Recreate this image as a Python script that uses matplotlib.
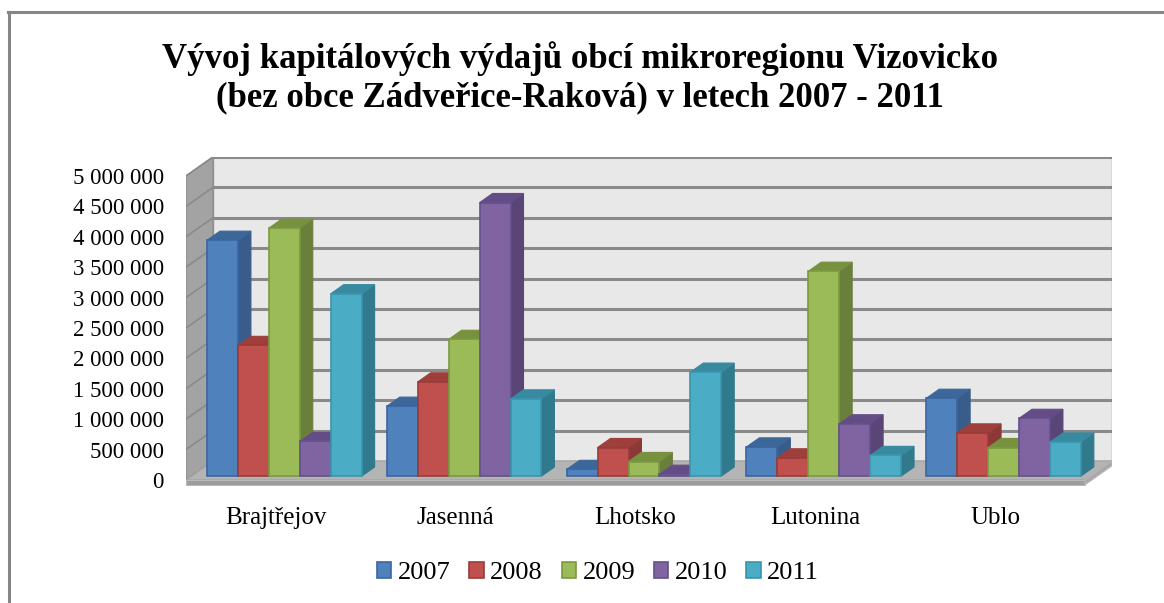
import matplotlib
matplotlib.use('Agg')
import matplotlib.pyplot as plt
from matplotlib.patches import Polygon, Rectangle
from matplotlib.lines import Line2D

plt.rcParams['font.family'] = ['Liberation Serif', 'DejaVu Serif']

# data
obce = ['Brajtřejov', 'Jasenná', 'Lhotsko', 'Lutonina', 'Ublo']
roky = ['2007', '2008', '2009', '2010', '2011']
v2007 = [3880000, 1150000, 110000, 480000, 1280000]
v2008 = [2150000, 1550000, 470000, 300000, 710000]
v2009 = [4080000, 2250000, 240000, 3370000, 470000]
v2010 = [570000, 4500000, 30000, 860000, 950000]
v2011 = [3000000, 1270000, 1710000, 340000, 560000]
serie = [v2007, v2008, v2009, v2010, v2011]
yticks = [0, 500000, 1000000, 1500000, 2000000, 2500000, 3000000, 3500000,
          4000000, 4500000, 5000000]

front = ['#4F81BD', '#C0504D', '#9BBB59', '#8064A2', '#4BACC6']
side = ['#385D8A', '#8C3836', '#6B7F3C', '#5A4577', '#317A8E']
top = ['#3E6799', '#9E3F3C', '#78913F', '#644D86', '#378AA0']
edge = ['#3A65A0', '#9A3B38', '#7A9A40', '#63508A', '#3A95AD']

fig = plt.figure(figsize=(11.64, 6.03), dpi=100)
ax = fig.add_axes([186/1164, 1-486/603, 926/1164, 329/603])
ax.set_xlim(0, 5.15)
ax.set_ylim(-100000, 5312500)

DX = 0.15       # full depth in x units
DY = 312500     # full depth in y units
f0, f1 = 0.2, 0.68
T = 80000       # floor thickness

# walls and floor
ax.add_patch(Rectangle((DX, DY), 5, 5000000, fc='#E8E8E8', ec='#9A9A9A', lw=1, zorder=1))
ax.add_patch(Polygon([(0, 0), (0, 5000000), (DX, 5000000+DY), (DX, DY)],
                     closed=True, fc='#A3A3A3', ec='#8E8E8E', lw=1, zorder=1))
for v in yticks[1:]:
    ax.plot([DX, 5+DX], [v+DY, v+DY], color='#8A8A8A', lw=2.2, zorder=2)
    ax.plot([0, DX], [v, v+DY], color='#8A8A8A', lw=1.2, zorder=2)
ax.add_patch(Polygon([(0, 0), (5, 0), (5+DX, DY), (DX, DY)], closed=True,
                     fc='#B4B4B4', ec='#A0A0A0', lw=0.8, zorder=2))
ax.add_patch(Rectangle((0, -T), 5, T, fc='#9C9C9C', ec='#B8B8B8', lw=0.8, zorder=2))
ax.add_patch(Polygon([(5, -T), (5, 0), (5+DX, DY), (5+DX, DY-T)], closed=True,
                     fc='#A8A8A8', ec='#B8B8B8', lw=0.8, zorder=2))

# bars
w = 0.172
ddx = (f1-f0)*DX
ddy = (f1-f0)*DY
b = f0*DY
handles = []
z = 3
for i in range(len(obce)):
    for j in range(len(roky)):
        v = serie[j][i]
        xl = i + 0.117 + j*w
        xr = xl + w
        ax.add_patch(Polygon([(xr, b), (xr, b+v), (xr+ddx, b+v+ddy), (xr+ddx, b+ddy)],
                             closed=True, fc=side[j], ec=side[j], lw=0.8, zorder=z))
        ax.add_patch(Polygon([(xl, b+v), (xr, b+v), (xr+ddx, b+v+ddy), (xl+ddx, b+v+ddy)],
                             closed=True, fc=top[j], ec=top[j], lw=0.8, zorder=z))
        bar = ax.bar(xl, v, width=w, bottom=b, align='edge', color=front[j],
                     edgecolor=edge[j], lw=1.2, zorder=z+1, label=roky[j])
        if i == 0:
            handles.append(bar)
        z += 2

for s in ax.spines.values():
    s.set_visible(False)
ax.set_yticks(yticks)
ax.set_yticklabels([f'{t:,}'.replace(',', ' ') for t in yticks], fontsize=16.5)
ax.set_xticks([i+0.5 for i in range(len(obce))])
ax.set_xticklabels(obce, fontsize=18)
ax.tick_params(axis='y', length=0, pad=16)
ax.tick_params(axis='x', length=0, pad=15)

fig.text(580/1164, 1-78/603,
         'Vývoj kapitálových výdajů obcí mikroregionu Vizovicko\n'
         '(bez obce Zádveřice-Raková) v letech 2007 - 2011',
         ha='center', va='center', fontsize=25, fontweight='bold', linespacing=1.2)

fig.legend(handles, roky, loc='center', bbox_to_anchor=(598/1164, 1-573/603), ncol=5,
           frameon=False, fontsize=19, handlelength=0.55, handleheight=0.55,
           handletextpad=0.25, columnspacing=0.7)

# outer frame
fig.add_artist(Line2D([8/1164, 1], [1-12/603, 1-12/603], color='#868686', lw=2.2))
fig.add_artist(Line2D([9/1164, 9/1164], [0, 1-12/603], color='#868686', lw=2.2))

plt.savefig('out.png', dpi=100)
